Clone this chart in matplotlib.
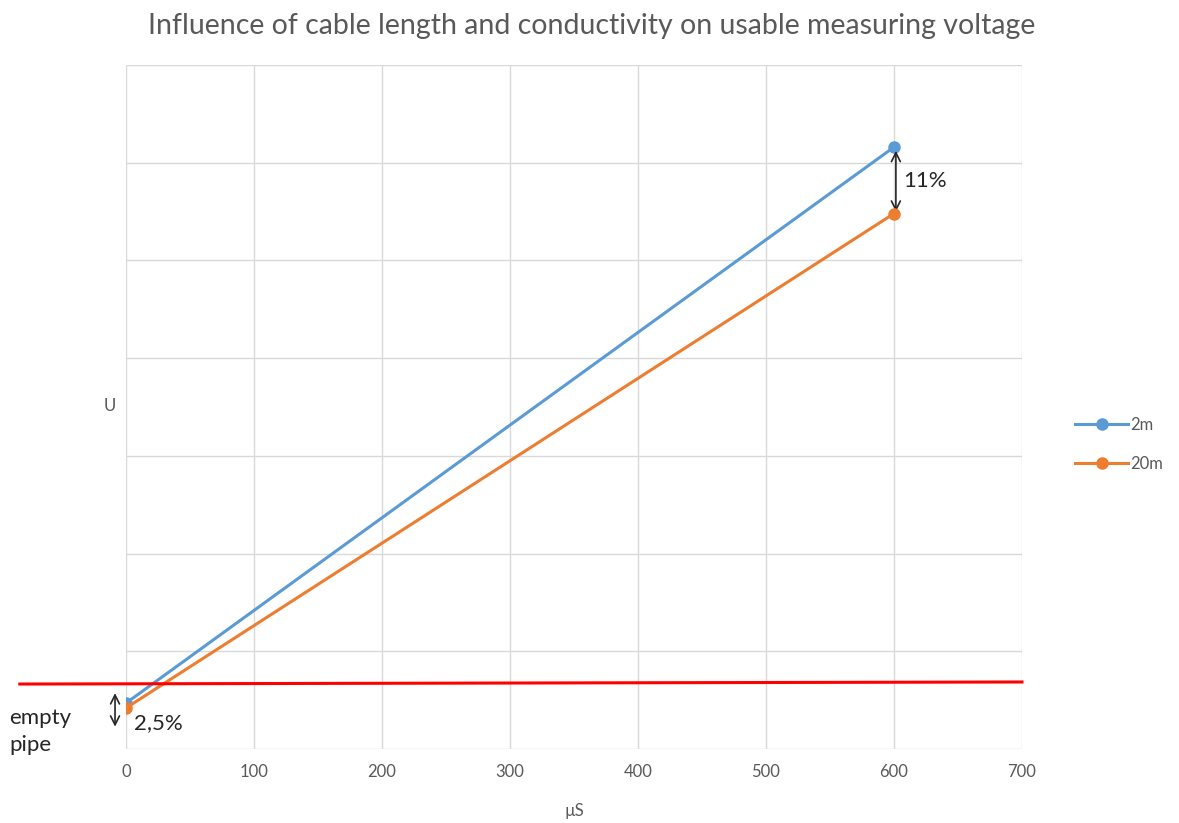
import matplotlib.pyplot as plt

# data (y in grid units, no labels on the axis)
x_vals = [0, 600]
u_2m = [0.47, 6.16]
u_20m = [0.42, 5.48]
series_names = ['2m', '20m']
x_ticks = [0, 100, 200, 300, 400, 500, 600, 700]
empty_pipe_x = [-83, 700]
empty_pipe_u = [0.665, 0.686]

plt.rcParams['font.family'] = ['Lato', 'DejaVu Sans']

fig = plt.figure(figsize=(11.79, 8.23), dpi=100)
ax = fig.add_axes([0.1069, 0.0899, 0.7599, 0.8311])

ax.plot(x_vals, u_2m, color='#5B9BD5', lw=2.2, marker='o', ms=8, label=series_names[0], zorder=3)
ax.plot(x_vals, u_20m, color='#ED7D31', lw=2.2, marker='o', ms=8, label=series_names[1], zorder=4)

# empty pipe threshold
ax.plot(empty_pipe_x, empty_pipe_u, color='#FF0000', lw=2.2, clip_on=False, zorder=5)

ax.set_xlim(0, 700)
ax.set_ylim(0, 7)
ax.set_xticks(x_ticks)
ax.set_yticks(range(0, 8))
ax.set_yticklabels([])
ax.tick_params(length=0, colors='#595959', labelsize=12, pad=11)
ax.grid(True, color='#D9D9D9', lw=1)
for s in ax.spines.values():
    s.set_visible(False)

ax.set_xlabel('µS', color='#595959', fontsize=12, labelpad=16)
ax.set_ylabel('U', color='#595959', fontsize=12, rotation=0, labelpad=12)
ax.yaxis.set_label_coords(-0.018, 0.49)
fig.suptitle('Influence of cable length and conductivity on usable measuring voltage',
             color='#595959', fontsize=20.5, y=0.984, x=0.502)

# difference arrows
arr = dict(arrowstyle='<->', color='#262626', lw=1.2, mutation_scale=16)
ax.annotate('', xy=(601.5, 6.15), xytext=(601.5, 5.47), arrowprops=arr)
ax.annotate('', xy=(-8.6, 0.60), xytext=(-8.6, 0.20), arrowprops=arr, annotation_clip=False)
ax.text(607, 5.81, '11%', fontsize=16, color='#262626', va='center')
ax.text(6, 0.27, '2,5%', fontsize=16, color='#262626', va='center')
ax.text(-91, 0.32, 'empty', fontsize=16, color='#262626', va='center')
ax.text(-91, 0.04, 'pipe', fontsize=16, color='#262626', va='center')

fig.legend(loc='center left', bbox_to_anchor=(0.899, 0.46), frameon=False,
           fontsize=12, labelcolor='#595959', handlelength=3.2, labelspacing=1.4,
           handletextpad=0.1)

fig.savefig('out.png', dpi=100)
